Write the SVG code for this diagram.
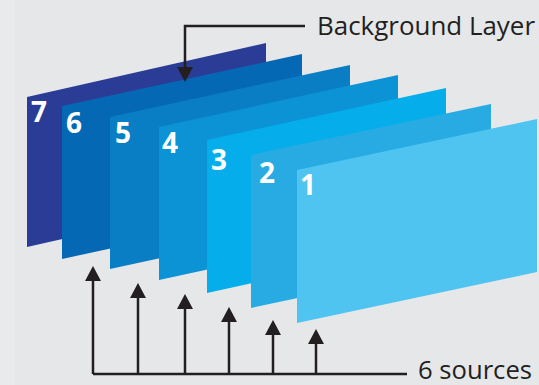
<svg xmlns="http://www.w3.org/2000/svg" width="539" height="385" viewBox="0 0 539 385">
<style>
.num{font-family:"Open Sans","Noto Sans",sans-serif;font-weight:bold;font-size:28px;fill:#ffffff}
.lbl{font-family:"Open Sans","Noto Sans",sans-serif;font-size:25px;fill:#231f20}
.ln{fill:none;stroke:#231f20;stroke-width:2.5}
</style>
<defs>
<marker id="ah" markerUnits="userSpaceOnUse" markerWidth="16" markerHeight="16" viewBox="0 0 15 16" refX="5" refY="8" orient="auto">
<path d="M0,0 L15,8 L0,16 z" fill="#231f20"/>
</marker>
</defs>
<rect width="539" height="385" fill="#e6e7e9"/>
<rect width="15" height="385" fill="#e9eaec"/>
<g id="layer7"><polygon points="27,97 266,43 266,193 27,247" fill="#2b3c97"/><text class="num" x="31" y="122">7</text></g>
<g id="layer6"><polygon points="62,106 302,54 302,207 62,259" fill="#0568b4"/><text class="num" x="66" y="133">6</text></g>
<g id="layer5"><polygon points="110,117 350,65 350,217 110,269" fill="#0a7ec4"/><text class="num" x="115" y="143">5</text></g>
<g id="layer4"><polygon points="159,127 398,75 398,228 159,280" fill="#0b93d6"/><text class="num" x="162" y="153">4</text></g>
<g id="layer3"><polygon points="207,140 446,88 446,241 207,293" fill="#05aeeb"/><text class="num" x="211" y="170">3</text></g>
<g id="layer2"><polygon points="251,155 491,104 491,257 251,308" fill="#27abe2"/><text class="num" x="259" y="183">2</text></g>
<g id="layer1"><polygon points="297,170 537,119 537,272 297,323" fill="#4fc4f0"/><text class="num" x="300" y="195">1</text></g>
<g id="connectors">
<path class="ln" d="M305,26 H185 V72" marker-end="url(#ah)"/>
<path class="ln" d="M93,374 H407"/>
<path class="ln" d="M93,374 V276" marker-end="url(#ah)"/>
<path class="ln" d="M138,374 V293" marker-end="url(#ah)"/>
<path class="ln" d="M185,374 V304" marker-end="url(#ah)"/>
<path class="ln" d="M229,374 V317" marker-end="url(#ah)"/>
<path class="ln" d="M273,374 V330" marker-end="url(#ah)"/>
<path class="ln" d="M316,374 V339" marker-end="url(#ah)"/>
</g>
<g id="labels">
<text class="lbl" x="317" y="35" textLength="218" lengthAdjust="spacingAndGlyphs">Background Layer</text>
<text class="lbl" x="418" y="379" textLength="114" lengthAdjust="spacingAndGlyphs">6 sources</text>
</g>
</svg>
